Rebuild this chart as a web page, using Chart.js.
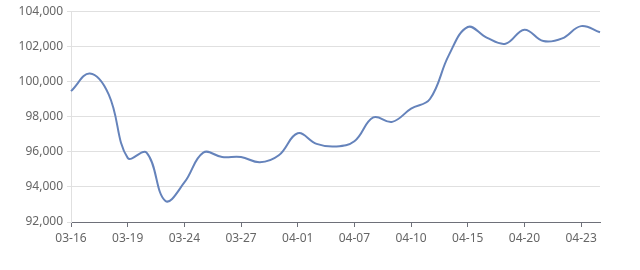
<!DOCTYPE html>
<html>
<head>
<meta charset="utf-8">
<script src="https://cdn.jsdelivr.net/npm/chart.js@4"></script>
<style>
  html, body { margin: 0; padding: 0; background: #fff; }
  #wrap { width: 640px; height: 270px; position: relative; }
</style>
</head>
<body>
<div id="wrap"><canvas id="chart_price"></canvas></div>
<script>
const dates = [
  '03-16', '03-17', '03-18', '03-19', '03-20', '03-23', '03-24', '03-25', '03-26', '03-27',
  '03-30', '03-31', '04-01', '04-02', '04-03', '04-07', '04-08', '04-09', '04-10', '04-13',
  '04-14', '04-15', '04-16', '04-17', '04-20', '04-21', '04-22', '04-23', '04-24'
];
const prices = [
  99450, 100450, 99250, 95650, 95950, 93200, 94250, 95950, 95700, 95700,
  95400, 95800, 97050, 96450, 96300, 96600, 97950, 97700, 98450, 99000,
  101500, 103100, 102500, 102150, 102950, 102300, 102450, 103150, 102800
];
const yTicks = [92000, 94000, 96000, 98000, 100000, 102000, 104000];

const fontFamily = "'Noto Sans', 'Liberation Sans', sans-serif";
const labelColor = '#666666';

new Chart(document.getElementById('chart_price'), {
  type: 'line',
  data: {
    labels: dates,
    datasets: [{
      label: 'price',
      data: prices,
      borderColor: '#6583bb',
      backgroundColor: 'transparent',
      borderWidth: 2,
      pointRadius: 0,
      tension: 0.4
    }]
  },
  options: {
    responsive: true,
    maintainAspectRatio: false,
    animation: false,
    layout: { padding: { top: 10, right: 40, left: 0, bottom: 0 } },
    scales: {
      x: {
        offset: false,
        afterBuildTicks: axis => {
          axis.ticks = axis.ticks.filter((t, i) => i % 3 === 0);
        },
        afterFit: axis => { axis.height = 48; },
        ticks: {
          autoSkip: false,
          maxRotation: 0,
          color: labelColor,
          padding: 4,
          font: { size: 12, family: fontFamily }
        },
        grid: {
          drawOnChartArea: false,
          drawTicks: true,
          tickLength: 5,
          color: '#6e7079'
        },
        border: { display: true, color: '#6e7079', width: 1 }
      },
      y: {
        min: yTicks[0],
        max: yTicks[yTicks.length - 1],
        afterBuildTicks: axis => {
          axis.ticks = yTicks.map(v => ({ value: v }));
        },
        afterFit: axis => { axis.width = 71; },
        ticks: {
          color: labelColor,
          padding: 4,
          font: { size: 12, family: fontFamily },
          callback: v => Number(v).toLocaleString('en-US')
        },
        grid: {
          color: '#e0e0e0',
          tickLength: 4
        },
        border: { display: true, color: '#e0e0e0', width: 1 }
      }
    },
    plugins: {
      legend: { display: false },
      tooltip: { enabled: false }
    }
  }
});
</script>
</body>
</html>
